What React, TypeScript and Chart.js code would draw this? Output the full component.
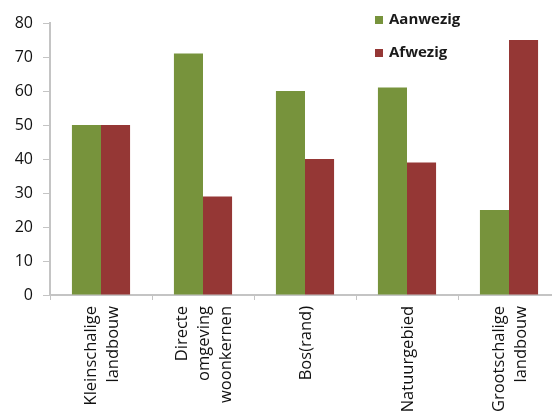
import React, { useEffect, useRef } from "react";
import { Chart, registerables } from "chart.js";
Chart.register(...registerables);

const categories: string[][] = [
  ["Kleinschalige", "landbouw"],
  ["Directe", "omgeving", "woonkernen"],
  ["Bos(rand)"],
  ["Natuurgebied"],
  ["Grootschalige", "landbouw"],
];
const aanwezig = [50, 71, 60, 61, 25];
const afwezig = [50, 29, 40, 39, 75];
const seriesNames = ["Aanwezig", "Afwezig"];
const seriesColors = ["#77933C", "#953735"];
const yMin = 0;
const yMax = 80;
const yStep = 10;

const FONT = "'Open Sans', 'Noto Sans', sans-serif";

const legendPlugin = {
  id: "customLegend",
  afterDraw(chart: any) {
    const ctx = chart.ctx;
    ctx.save();
    ctx.font = `bold 15px ${FONT}`;
    ctx.textBaseline = "middle";
    ctx.textAlign = "left";
    chart.data.datasets.forEach((ds: any, i: number) => {
      const y = 20 + i * 33;
      ctx.fillStyle = ds.backgroundColor;
      ctx.fillRect(375, y - 4, 8, 8);
      ctx.fillStyle = "#1a1a1a";
      ctx.fillText(ds.label, 389, y);
    });
    ctx.restore();
  },
};

// Draw rotated multi-line category labels centred on each category
const xLabelPlugin = {
  id: "xLabels",
  afterDraw(chart: any) {
    const ctx = chart.ctx;
    const scale = chart.scales.x;
    const lineH = 22;
    ctx.save();
    ctx.font = `16.5px ${FONT}`;
    ctx.fillStyle = "#111";
    ctx.textAlign = "right";
    ctx.textBaseline = "middle";
    const labels = chart.data.labels as string[][];
    labels.forEach((lab, i) => {
      const px = scale.getPixelForTick(i);
      const n = lab.length;
      lab.forEach((line, j) => {
        const off = (j - (n - 1) / 2) * lineH + 1;
        ctx.save();
        ctx.translate(px + off, scale.top + 11);
        ctx.rotate(-Math.PI / 2);
        ctx.fillText(line, 0, 0);
        ctx.restore();
      });
    });
    ctx.restore();
  },
};

export default function App() {
  const ref = useRef<HTMLCanvasElement | null>(null);
  useEffect(() => {
    if (!ref.current) return;
    const chart = new Chart(ref.current, {
      type: "bar",
      data: {
        labels: categories,
        datasets: [
          { label: seriesNames[0], data: aanwezig, backgroundColor: seriesColors[0], borderWidth: 0 },
          { label: seriesNames[1], data: afwezig, backgroundColor: seriesColors[1], borderWidth: 0 },
        ],
      },
      options: {
        animation: false,
        responsive: false,
        devicePixelRatio: 1,
        layout: { padding: { top: 23, right: 10, bottom: 0, left: 0 } },
        plugins: { legend: { display: false }, tooltip: { enabled: false } },
        datasets: { bar: { categoryPercentage: 0.57, barPercentage: 1 } },
        scales: {
          x: {
            afterFit: (s: any) => { s.height = 117; },
            grid: { display: true, drawOnChartArea: false, offset: true, tickLength: 5, color: "#c4c4c4", lineWidth: 1 },
            border: { display: true, color: "#c4c4c4", width: 2 },
            ticks: { display: false, autoSkip: false },
          },
          y: {
            min: yMin,
            max: yMax,
            afterFit: (s: any) => { s.width = 50; },
            grid: { display: true, drawOnChartArea: false, tickLength: 7, color: "#c4c4c4", lineWidth: 1 },
            border: { display: true, color: "#c4c4c4", width: 2 },
            ticks: { stepSize: yStep, color: "#111", font: { size: 16, family: FONT }, padding: 10 },
          },
        },
      },
      plugins: [legendPlugin, xLabelPlugin],
    });
    return () => chart.destroy();
  }, []);
  return (
    <div style={{ position: "fixed", left: 0, top: 0, width: 552, height: 412, overflow: "hidden", background: "#fff" }}>
      <canvas ref={ref} width={570} height={412} style={{ width: 570, height: 412, display: "block" }} />
    </div>
  );
}
